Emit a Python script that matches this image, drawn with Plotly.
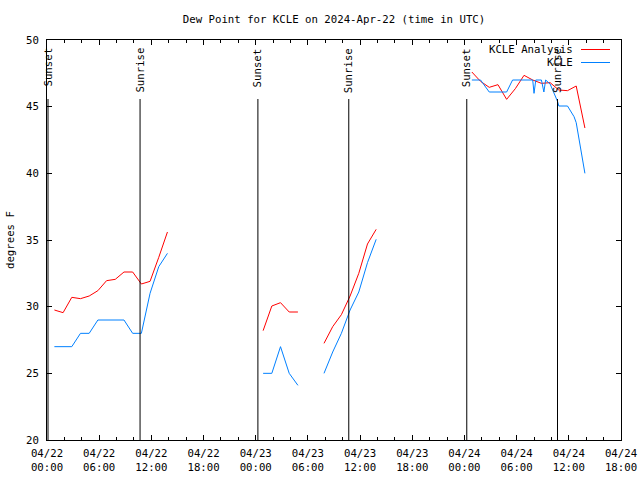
import plotly.graph_objects as go

# ---------------- data ----------------
analysis_times = (
    [f"2024-04-22 {h:02d}:51" for h in range(0, 14)] + [None] +
    [f"2024-04-23 {h:02d}:51" for h in range(0, 5)] + [None] +
    [f"2024-04-23 {h:02d}:51" for h in range(7, 14)] + [None] +
    [f"2024-04-24 {h:02d}:51" for h in range(0, 14)]
)
analysis_values = (
    [29.75, 29.55, 30.7, 30.6, 30.8, 31.2, 31.95, 32.05, 32.6, 32.6, 31.7, 31.9, 33.7, 35.6] + [None] +
    [28.2, 30.05, 30.3, 29.6, 29.6] + [None] +
    [27.25, 28.5, 29.4, 30.8, 32.5, 34.7, 35.8] + [None] +
    [47.6, 46.9, 46.45, 46.65, 45.55, 46.35, 47.35, 47.0, 46.75, 46.8, 46.25, 46.2, 46.55, 43.4]
)

obs_times = (
    [f"2024-04-22 {h:02d}:51" for h in range(0, 14)] + [None] +
    [f"2024-04-23 {h:02d}:51" for h in range(0, 5)] + [None] +
    [f"2024-04-23 {h:02d}:51" for h in range(7, 14)] + [None] +
    ["2024-04-24 00:51", "2024-04-24 01:51", "2024-04-24 02:51", "2024-04-24 03:51",
     "2024-04-24 04:51", "2024-04-24 05:32", "2024-04-24 05:51", "2024-04-24 06:51",
     "2024-04-24 07:51", "2024-04-24 08:00", "2024-04-24 08:12", "2024-04-24 08:51",
     "2024-04-24 09:08", "2024-04-24 09:20", "2024-04-24 09:51", "2024-04-24 10:42",
     "2024-04-24 10:51", "2024-04-24 11:51", "2024-04-24 12:36", "2024-04-24 12:51",
     "2024-04-24 13:51"]
)
obs_values = (
    [27, 27, 27, 28, 28, 29, 29, 29, 29, 28, 28, 31, 33, 34] + [None] +
    [25, 25, 27, 25, 24.1] + [None] +
    [25.0, 26.6, 28.0, 29.75, 31.1, 33.3, 35.05] + [None] +
    [47.0, 47.0, 46.1, 46.1, 46.1, 47.0, 47.0, 47.0, 47.0, 46.0, 47.0, 47.0,
     46.1, 47.0, 46.7, 45.4, 45.05, 45.05, 44.25, 43.8, 40.0]
)

sunset_times = ["2024-04-22 00:07", "2024-04-23 00:15", "2024-04-24 00:16"]
sunrise_times = ["2024-04-22 10:42", "2024-04-23 10:42", "2024-04-24 10:42"]

tick_vals = [f"2024-04-{d} {h:02d}:00" for d in (22, 23, 24) for h in (0, 6, 12, 18)]
tick_text = [f"04/{d}<br>{h:02d}:00" for d in (22, 23, 24) for h in (0, 6, 12, 18)]

series_names = ["KCLE Analysis", "KCLE"]
series_colors = ["#ff0000", "#0080ff"]

FONT = "DejaVu Sans Mono"
FS = 10.7

# ---------------- figure ----------------
fig = go.Figure()
fig.add_trace(go.Scatter(x=analysis_times, y=analysis_values, mode="lines",
                         line=dict(color=series_colors[0], width=1),
                         name=series_names[0], connectgaps=False))
fig.add_trace(go.Scatter(x=obs_times, y=obs_values, mode="lines",
                         line=dict(color=series_colors[1], width=1),
                         name=series_names[1], connectgaps=False))

shapes = []
annotations = []
for lbl, times in (("Sunset", sunset_times), ("Sunrise", sunrise_times)):
    for t in times:
        shapes.append(dict(type="line", xref="x", yref="paper", x0=t, x1=t,
                           y0=0, y1=0.8525, line=dict(color="black", width=1)))
        annotations.append(dict(text=lbl, x=t, xref="x", y=0.985, yref="paper",
                                textangle=-90, showarrow=False, xanchor="center",
                                yanchor="top", font=dict(family=FONT, size=FS, color="black")))

# custom gnuplot-style legend
for i, (nm, col) in enumerate(zip(series_names, series_colors)):
    ypx = 49.5 + i * 13
    yp = (440 - ypx) / 400
    annotations.append(dict(text=nm, xref="paper", yref="paper", x=(575 - 47) / 574, y=yp,
                            xanchor="right", yanchor="middle", showarrow=False,
                            font=dict(family=FONT, size=FS, color="black")))
    shapes.append(dict(type="line", xref="paper", yref="paper",
                       x0=(581 - 47) / 574, x1=(610 - 47) / 574, y0=yp, y1=yp,
                       line=dict(color=col, width=1)))

annotations.append(dict(text="degrees F", xref="paper", yref="paper", x=-37 / 574, y=0.5,
                        textangle=-90, showarrow=False, xanchor="center", yanchor="middle",
                        font=dict(family=FONT, size=FS, color="black")))

fig.update_layout(
    width=640, height=480,
    margin=dict(l=47, r=19, t=40, b=40, autoexpand=False),
    paper_bgcolor="white", plot_bgcolor="white",
    showlegend=False,
    title=dict(text="Dew Point for KCLE on 2024-Apr-22 (time in UTC)",
               x=0.5, xref="paper", y=1 - 19 / 480, yref="container",
               xanchor="center", yanchor="middle",
               font=dict(family=FONT, size=FS, color="black")),
    font=dict(family=FONT, size=FS, color="black"),
    shapes=shapes, annotations=annotations,
)
fig.update_xaxes(type="date", range=["2024-04-22 00:00", "2024-04-24 18:00"],
                 tickvals=tick_vals, ticktext=tick_text, ticks="inside", ticklen=5,
                 tickcolor="black", showline=True, linecolor="black", linewidth=1,
                 mirror="ticks", showgrid=False, zeroline=False, automargin=False,
                 ticklabelstandoff=3,
                 minor=dict(dtick=2 * 3600 * 1000, tick0="2024-04-22 00:00",
                            ticks="inside", ticklen=3, tickcolor="black", showgrid=False),
                 tickfont=dict(family=FONT, size=FS, color="black"))
fig.update_yaxes(range=[20, 50], tick0=20, dtick=5, ticks="inside", ticklen=5,
                 tickcolor="black", showline=True, linecolor="black", linewidth=1,
                 mirror="ticks", showgrid=False, zeroline=False, automargin=False,
                 ticklabelstandoff=5,
                 tickfont=dict(family=FONT, size=FS, color="black"))

fig.write_html("out.html", config={"displayModeBar": False},
               post_script="document.body.style.margin='0px';")
